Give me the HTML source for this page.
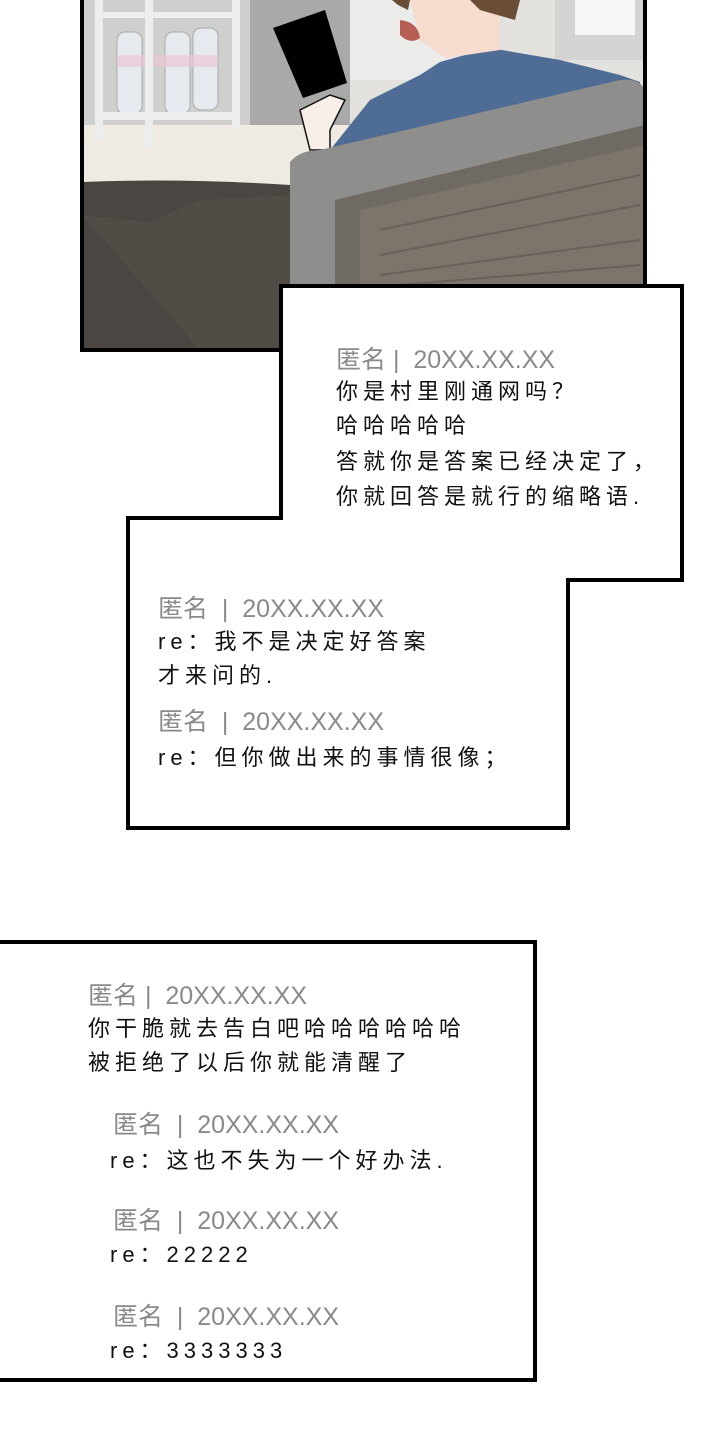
<!DOCTYPE html>
<html><head><meta charset="utf-8"><style>
html,body{margin:0;padding:0;background:#fff;}
body{width:720px;height:1440px;position:relative;overflow:hidden;font-family:"Liberation Sans","Noto Sans CJK SC",sans-serif;}
.t{position:absolute;white-space:nowrap;}
.h{color:#8a8a8a;font-size:25px;}
.b{color:#111;font-size:22px;letter-spacing:5px;}
</style></head><body>
<svg width="720" height="1440" style="position:absolute;left:0;top:0">
<g>
<rect x="82" y="0" width="563" height="350" fill="#e2e1de"/>
<rect x="82" y="0" width="170" height="150" fill="#cfcfcd"/>
<rect x="250" y="0" width="100" height="128" fill="#a9a9a8"/>
<rect x="350" y="0" width="150" height="80" fill="#ebebe9"/>
<rect x="555" y="0" width="90" height="60" fill="#d5d4d2"/>
<rect x="575" y="0" width="60" height="35" fill="#f7f7f5"/>
<rect x="82" y="125" width="300" height="65" fill="#efebe3"/>
<g fill="#e6eaee" stroke="#aaa" stroke-width="1">
<rect x="117" y="32" width="25" height="82" rx="8"/>
<rect x="165" y="32" width="25" height="82" rx="8"/>
<rect x="193" y="28" width="25" height="82" rx="8"/>
</g>
<rect x="117" y="55" width="100" height="12" fill="#e8c6d4" opacity=".7"/>
<rect x="95" y="0" width="8" height="140" fill="#ededed"/>
<rect x="145" y="0" width="8" height="148" fill="#ededed"/>
<rect x="232" y="0" width="8" height="128" fill="#ededed"/>
<rect x="95" y="112" width="145" height="8" fill="#ededed"/>
<rect x="95" y="12" width="145" height="6" fill="#ededed"/>
<path d="M82 182 Q180 178 290 185 L290 350 L82 350Z" fill="#4b4642"/>
<path d="M82 215 L150 222 L200 200 L290 195 L290 350 L200 350Z" fill="#56504b" opacity=".6"/>
<path d="M330 150 L370 100 L420 75 L440 62 L490 48 L560 60 L620 75 L640 82 L640 120 L330 160Z" fill="#4f6c94"/>
<path d="M410 0 L500 0 L500 50 L445 58 L420 40Z" fill="#f5dccf"/>
<path d="M470 0 L520 0 L515 20 L480 10Z" fill="#6a4d37"/>
<path d="M392 0 L410 0 L408 10 L398 5Z" fill="#6a4d37"/>
<path d="M400 20 Q418 22 420 38 Q410 45 400 35Z" fill="#b75f55"/>
<path d="M300 110 L330 95 L345 100 L330 130 L330 150 L310 150 Z" fill="#f7efe8" stroke="#111" stroke-width="1.5"/>
<path d="M273 28 L325 10 L347 83 L303 98Z" fill="#000"/>
<path d="M290 162 Q300 150 320 150 L620 80 Q645 78 645 95 L645 285 L290 285Z" fill="#8e8e8c"/>
<path d="M335 200 L645 125 L645 285 L335 285Z" fill="#6f6a63"/>
<path d="M360 210 L645 145 L645 285 L360 285Z" fill="#7b756c"/>
<g stroke="#5f5a54" stroke-width="2" opacity=".7">
<line x1="380" y1="230" x2="640" y2="175"/><line x1="380" y1="255" x2="640" y2="205"/><line x1="380" y1="275" x2="640" y2="240"/><line x1="400" y1="285" x2="640" y2="265"/>
</g>
<rect x="82" y="-3" width="563" height="353" fill="none" stroke="#000" stroke-width="4"/>
</g>
<path d="M281 286 L682 286 L682 580 L568 580 L568 828 L128 828 L128 518 L281 518 Z" fill="#fff" stroke="#000" stroke-width="4"/>
<rect x="-5" y="942" width="540" height="438" fill="#fff" stroke="#000" stroke-width="4"/>
</svg>

<div class="t h" style="left:336px;top:340px;">匿名&nbsp;|&nbsp;&nbsp;20XX.XX.XX</div>
<div class="t b" style="left:336px;top:374px;">你是村里刚通网吗？</div>
<div class="t b" style="left:336px;top:408px;">哈哈哈哈哈</div>
<div class="t b" style="left:336px;top:444px;">答就你是答案已经决定了，</div>
<div class="t b" style="left:336px;top:479px;">你就回答是就行的缩略语.</div>

<div class="t h" style="left:158px;top:589px;">匿名&nbsp;&nbsp;|&nbsp;&nbsp;20XX.XX.XX</div>
<div class="t b" style="left:158px;top:624px;">re：我不是决定好答案</div>
<div class="t b" style="left:158px;top:658px;">才来问的.</div>
<div class="t h" style="left:158px;top:702px;">匿名&nbsp;&nbsp;|&nbsp;&nbsp;20XX.XX.XX</div>
<div class="t b" style="left:158px;top:740px;">re：但你做出来的事情很像；</div>

<div class="t h" style="left:88px;top:976px;">匿名&nbsp;|&nbsp;&nbsp;20XX.XX.XX</div>
<div class="t b" style="left:88px;top:1011px;">你干脆就去告白吧哈哈哈哈哈哈</div>
<div class="t b" style="left:88px;top:1045px;">被拒绝了以后你就能清醒了</div>
<div class="t h" style="left:113px;top:1105px;">匿名&nbsp;&nbsp;|&nbsp;&nbsp;20XX.XX.XX</div>
<div class="t b" style="left:110px;top:1143px;">re：这也不失为一个好办法.</div>
<div class="t h" style="left:113px;top:1201px;">匿名&nbsp;&nbsp;|&nbsp;&nbsp;20XX.XX.XX</div>
<div class="t b" style="left:110px;top:1237px;">re：22222</div>
<div class="t h" style="left:113px;top:1297px;">匿名&nbsp;&nbsp;|&nbsp;&nbsp;20XX.XX.XX</div>
<div class="t b" style="left:110px;top:1333px;">re：3333333</div>
</body></html>
